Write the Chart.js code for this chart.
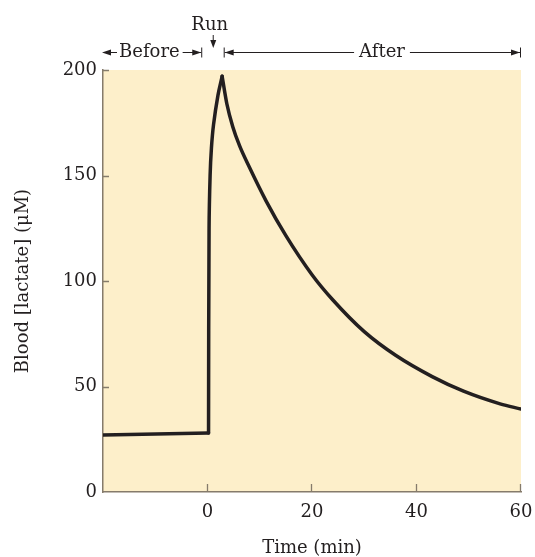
<!DOCTYPE html>
<html><head><meta charset="utf-8">
<script src="https://cdn.jsdelivr.net/npm/chart.js@4.4.1/dist/chart.umd.min.js"></script>
<style>html,body{margin:0;padding:0;background:#fff}#wrap{width:535px;height:557px}</style>
</head><body><div id="wrap"><canvas id="c" width="535" height="557"></canvas></div>
<script>
// ---- data ----
const xTicks = [0, 20, 40, 60];
const yTicks = [0, 50, 100, 150, 200];
const beforeX = [-20, 0.2];
const beforeY = [27, 28];
const riseX = [0.2, 0.3, 0.5, 0.75, 1.15, 2, 2.8];
const riseY = [28, 125, 150, 163, 174, 188, 197];
const afterX = [2.8, 3.7, 4.85, 6.15, 8, 11.2, 15, 20, 24, 30, 36, 43, 49, 56, 60];
const afterY = [197, 184, 173, 164, 154, 138, 121.5, 103, 91, 76, 64.8, 54.7, 47.8, 41.8, 39.3];
// phase annotation positions (x units)
const phaseBefore = [-20, -1.2];
const phaseRunX = 1;
const phaseAfter = [3.1, 60];
const phaseLabels = ['Before', 'Run', 'After'];

const INK = '#231f20';
const AXIS = '#857b6b';
const FONT = "'DejaVu Serif', serif";

const pts = (xs, ys) => xs.map((x, i) => ({x, y: ys[i]}));

const bgPlugin = {
  id: 'bg',
  beforeDraw(chart) {
    const {ctx, chartArea: a} = chart;
    ctx.save();
    ctx.fillStyle = '#fdefca';
    ctx.fillRect(a.left, a.top, a.right - a.left, a.bottom - a.top);
    ctx.restore();
  }
};

const tickPlugin = {
  id: 'inTicks',
  afterDraw(chart) {
    const {ctx, scales: {x, y}, chartArea: a} = chart;
    ctx.save();
    ctx.strokeStyle = AXIS;
    ctx.lineWidth = 1.3;
    ctx.beginPath();
    yTicks.filter(v => v > 0).forEach(v => {
      const py = Math.round(y.getPixelForValue(v)) + 0.5;
      ctx.moveTo(a.left, py); ctx.lineTo(a.left + 6, py);
    });
    xTicks.forEach(v => {
      const px = Math.round(x.getPixelForValue(v)) - 0.5;
      ctx.moveTo(px, a.bottom); ctx.lineTo(px, a.bottom - 8);
    });
    ctx.stroke();
    ctx.restore();
  }
};

function arrowHead(ctx, tipX, y, dir) {
  ctx.beginPath();
  ctx.moveTo(tipX, y);
  ctx.lineTo(tipX - dir * 9, y - 3);
  ctx.lineTo(tipX - dir * 9, y + 3);
  ctx.closePath();
  ctx.fill();
}

const phasePlugin = {
  id: 'phases',
  afterDraw(chart) {
    const {ctx, scales: {x}} = chart;
    const yL = 52.5;
    ctx.save();
    ctx.fillStyle = INK; ctx.strokeStyle = INK; ctx.lineWidth = 1;
    ctx.font = '18px ' + FONT;
    ctx.textBaseline = 'middle'; ctx.textAlign = 'center';
    // Before
    const b0 = x.getPixelForValue(phaseBefore[0]);
    const b1 = x.getPixelForValue(phaseBefore[1]);
    const bw = ctx.measureText(phaseLabels[0]).width;
    const bc = b0 + 16 + bw / 2;
    ctx.fillText(phaseLabels[0], bc, yL);
    ctx.beginPath();
    ctx.moveTo(b0 + 1, yL); ctx.lineTo(bc - bw / 2 - 2, yL);
    ctx.moveTo(bc + bw / 2 + 3, yL); ctx.lineTo(b1, yL);
    ctx.moveTo(b1 + 0.5, yL - 5); ctx.lineTo(b1 + 0.5, yL + 5);
    ctx.stroke();
    arrowHead(ctx, b0 - 1, yL, -1);
    arrowHead(ctx, b1, yL, 1);
    // Run
    const r = x.getPixelForValue(phaseRunX);
    ctx.fillText(phaseLabels[1], r - 3, 25);
    ctx.beginPath();
    ctx.moveTo(r + 0.5, 35); ctx.lineTo(r + 0.5, 42);
    ctx.stroke();
    ctx.beginPath();
    ctx.moveTo(r + 0.5, 48); ctx.lineTo(r - 2.5, 40); ctx.lineTo(r + 3.5, 40); ctx.closePath();
    ctx.fill();
    // After
    const a0 = x.getPixelForValue(phaseAfter[0]);
    const a1 = x.getPixelForValue(phaseAfter[1]);
    const aw = ctx.measureText(phaseLabels[2]).width;
    const ac = 382;
    ctx.fillText(phaseLabels[2], ac, yL);
    ctx.beginPath();
    ctx.moveTo(a0 + 0.5, yL - 5); ctx.lineTo(a0 + 0.5, yL + 5);
    ctx.moveTo(a0 + 1, yL); ctx.lineTo(ac - aw / 2 - 5, yL);
    ctx.moveTo(ac + aw / 2 + 5, yL); ctx.lineTo(a1 - 1, yL);
    ctx.moveTo(a1 - 0.5, yL - 5); ctx.lineTo(a1 - 0.5, yL + 5);
    ctx.stroke();
    arrowHead(ctx, a0 + 1, yL, -1);
    arrowHead(ctx, a1 - 1, yL, 1);
    ctx.restore();
  }
};

const lineStyle = {
  borderColor: INK, borderWidth: 3.5, pointRadius: 0, fill: false,
  borderJoinStyle: 'round', borderCapStyle: 'round'
};

new Chart(document.getElementById('c'), {
  type: 'line',
  data: {
    datasets: [
      Object.assign({label: 'Before', data: pts(beforeX, beforeY), tension: 0}, lineStyle),
      Object.assign({label: 'Run', data: pts(riseX, riseY), tension: 0.4}, lineStyle),
      Object.assign({label: 'After', data: pts(afterX, afterY), cubicInterpolationMode: 'monotone'}, lineStyle)
    ]
  },
  options: {
    responsive: false,
    animation: false,
    layout: {padding: {top: 70, right: 14, left: 0, bottom: 0}},
    plugins: {legend: {display: false}, tooltip: {enabled: false}},
    scales: {
      x: {
        type: 'linear', min: -20, max: 60,
        afterFit: s => { s.height = 65; s.paddingRight = 0; s.paddingLeft = 0; },
        afterBuildTicks: s => { s.ticks = [-20].concat(xTicks).map(v => ({value: v})); },
        ticks: {
          color: INK, font: {family: FONT, size: 18}, padding: 10,
          callback: v => (xTicks.includes(v) ? String(v) : '')
        },
        grid: {display: true, drawOnChartArea: false, drawTicks: false},
        border: {display: true, color: AXIS, width: 1.5},
        title: {display: true, text: 'Time (min)', color: INK,
          font: {family: FONT, size: 18, lineHeight: 1}, padding: {top: 0, bottom: 0}}
      },
      y: {
        type: 'linear', min: 0, max: 200,
        afterFit: s => { s.width = 103; },
        afterBuildTicks: s => { s.ticks = yTicks.map(v => ({value: v})); },
        ticks: {color: INK, font: {family: FONT, size: 18}, padding: 6},
        grid: {display: true, drawOnChartArea: false, drawTicks: false},
        border: {display: true, color: AXIS, width: 1.5},
        title: {display: true, text: 'Blood [lactate] (μM)', color: INK,
          font: {family: FONT, size: 18, lineHeight: 1}, padding: {top: 14, bottom: 0}}
      }
    }
  },
  plugins: [bgPlugin, tickPlugin, phasePlugin]
});
</script>
</body></html>
